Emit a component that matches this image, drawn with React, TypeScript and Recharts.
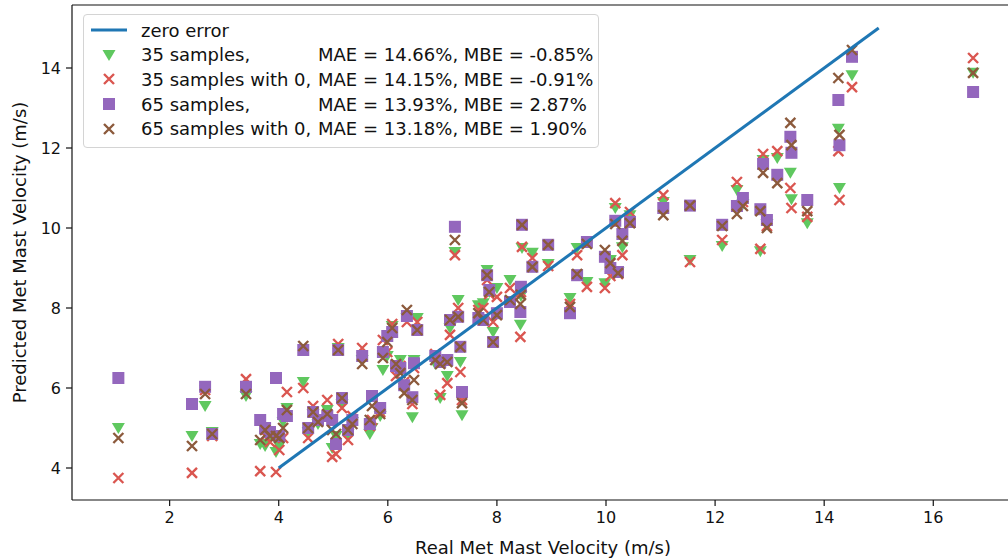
import React from "react"
import { ScatterChart, Scatter, XAxis, YAxis, Legend, ReferenceLine } from "recharts"

// real wind speed at the met mast (x of every column of markers)
const realVelocity = [
  1.06, 2.41, 2.65, 2.78, 3.4, 3.66, 3.75, 3.84, 3.95, 4.01,
  4.08, 4.15, 4.45, 4.54, 4.63, 4.72, 4.89, 4.98, 5.05, 5.09,
  5.16, 5.27, 5.35, 5.53, 5.67, 5.71, 5.86, 5.91, 5.99, 6.08,
  6.15, 6.23, 6.3, 6.35, 6.45, 6.48, 6.54, 6.87, 6.96, 7.09,
  7.14, 7.23, 7.29, 7.33, 7.36, 7.66, 7.75, 7.82, 7.86, 7.93,
  8.0, 8.24, 8.43, 8.44, 8.46, 8.65, 8.94, 9.34, 9.47, 9.65,
  9.98, 10.08, 10.17, 10.22, 10.3, 10.44, 11.05, 11.54, 12.13, 12.4,
  12.51, 12.83, 12.88, 12.95, 13.14, 13.38, 13.4, 13.69, 14.26, 14.28,
  14.51, 16.73,
]

const pred35 = [
  5.0, 4.8, 5.55, 4.9, 5.8, 4.6, 4.55, 4.75, 4.4, 4.55,
  5.15, 5.5, 6.15, 4.9, 5.35, 5.1, 5.45, 4.5, 4.8, 7.0,
  5.6, 4.85, 5.15, 6.7, 4.85, 5.0, 5.3, 6.45, 6.8, 7.55,
  6.5, 6.7, 6.0, 7.75, 5.27, 6.7, 7.75, 6.6, 5.75, 6.3,
  7.5, 9.4, 8.2, 6.65, 5.32, 8.07, 8.12, 8.95, 8.4, 7.4,
  8.5, 8.7, 7.58, 8.3, 9.5, 9.38, 9.1, 8.25, 9.5, 8.65,
  8.62, 9.2, 10.5, 8.9, 9.52, 10.32, 10.65, 9.2, 9.55, 10.95,
  10.6, 9.42, 11.7, 10.1, 11.75, 11.38, 10.72, 10.12, 12.48, 11.0,
  13.82, 13.88,
]

const pred35Zero = [
  3.75, 3.88, 5.95, 4.8, 6.22, 3.92, 4.8, 4.65, 3.9, 4.45,
  4.75, 5.9, 6.0, 4.75, 5.55, 5.2, 5.7, 4.28, 4.35, 7.1,
  5.5, 4.7, 5.3, 7.0, 5.05, 5.2, 5.4, 7.2, 6.9, 7.6,
  6.3, 6.55, 6.15, 7.65, 5.6, 6.5, 7.65, 6.85, 5.83, 6.12,
  7.33, 9.32, 8.0, 6.4, 5.7, 7.95, 8.0, 8.7, 8.35, 7.65,
  8.28, 8.5, 7.28, 8.4, 9.53, 9.25, 9.05, 8.1, 9.32, 8.53,
  8.5, 8.8, 10.62, 8.85, 9.32, 10.4, 10.82, 9.15, 9.7, 11.15,
  10.65, 9.48, 11.85, 10.05, 11.92, 11.0, 10.5, 10.28, 11.92, 10.7,
  13.52, 14.25,
]

const pred65 = [
  6.25, 5.6, 6.03, 4.85, 6.03, 5.2, 5.0, 4.9, 6.25, 4.8,
  5.35, 5.3, 6.95, 5.0, 5.4, 5.2, 5.3, 5.2, 4.6, 6.95,
  5.75, 4.95, 5.2, 6.8, 5.1, 5.8, 5.5, 6.9, 7.3, 7.4,
  6.55, 6.5, 6.07, 7.8, 5.77, 6.62, 7.45, 6.8, 6.65, 6.7,
  7.7, 10.03, 7.78, 7.03, 5.9, 7.75, 7.7, 8.82, 8.45, 7.15,
  7.87, 8.15, 7.9, 8.53, 10.08, 9.03, 9.58, 7.87, 8.82, 9.65,
  9.28, 9.0, 10.18, 8.9, 9.85, 10.15, 10.5, 10.56, 10.08, 10.55,
  10.75, 10.47, 11.6, 10.2, 11.33, 12.28, 11.88, 10.7, 13.2, 12.07,
  14.28, 13.4,
]

const pred65Zero = [
  4.75, 4.55, 5.85, 4.85, 5.85, 4.7, 4.95, 4.8, 4.8, 4.75,
  5.0, 5.45, 7.05, 5.0, 5.4, 5.15, 5.35, 4.95, 4.85, 6.95,
  5.75, 4.95, 5.1, 6.6, 5.2, 5.55, 5.35, 6.75, 7.15, 7.5,
  6.6, 6.37, 5.87, 7.95, 5.7, 6.2, 7.45, 6.7, 6.6, 6.65,
  7.7, 9.7, 7.78, 7.03, 5.62, 7.87, 7.7, 8.82, 8.4, 7.15,
  7.82, 8.2, 8.1, 8.33, 10.08, 9.03, 9.58, 8.03, 8.85, 9.6,
  9.45, 9.12, 10.1, 8.87, 9.68, 10.12, 10.32, 10.56, 10.05, 10.35,
  10.55, 10.42, 11.38, 10.0, 11.12, 12.63, 12.07, 10.42, 13.75, 12.33,
  14.45, 13.88,
]

const zeroErrorX = [4, 15]
const zeroErrorY = [4, 15]

const xTicks = [2, 4, 6, 8, 10, 12, 14, 16]
const yTicks = [4, 6, 8, 10, 12, 14]
const xDomain = [0.21, 17.48]
const yDomain = [3.2, 15.575]

const seriesNames = ["35 samples,", "35 samples with 0,", "65 samples,", "65 samples with 0,"]
const seriesStats = [
  "MAE = 14.66%, MBE = -0.85%",
  "MAE = 14.15%, MBE = -0.91%",
  "MAE = 13.93%, MBE = 2.87%",
  "MAE = 13.18%, MBE = 1.90%",
]

const GREEN = "#5fc85f"
const RED = "#da5650"
const PURPLE = "#9467bd"
const BROWN = "#8c5a3c"
const BLUE = "#1f77b4"
const FONT = "'DejaVu Sans', sans-serif"

const toPoints = (ys: number[]) => realVelocity.map((x, i) => ({ x, y: ys[i] }))
const zeroLine = zeroErrorX.map((x, i) => ({ x, y: zeroErrorY[i] }))

// marker shapes, drawn at the scaled point
const triangle = (color: string) => (p: any) => (
  <path d={`M${p.cx - 6.5},${p.cy - 5} L${p.cx + 6.5},${p.cy - 5} L${p.cx},${p.cy + 6} Z`} fill={color} />
)
const square = (color: string) => (p: any) => (
  <rect x={p.cx - 6} y={p.cy - 6} width={12} height={12} fill={color} />
)
const cross = (color: string) => (p: any) => (
  <path
    d={`M${p.cx - 5},${p.cy - 5}L${p.cx + 5},${p.cy + 5}M${p.cx - 5},${p.cy + 5}L${p.cx + 5},${p.cy - 5}`}
    stroke={color}
    strokeWidth={2.4}
  />
)
const noMarker = () => <g />

const markerIcon = (kind: string, color: string) => {
  if (kind === "line") return <line x1={2} y1={12} x2={38} y2={12} stroke={color} strokeWidth={3} />
  if (kind === "tri") return <path d="M13.5,7 L26.5,7 L20,18 Z" fill={color} />
  if (kind === "sq") return <rect x={14} y={6} width={12} height={12} fill={color} />
  return <path d="M15,7L25,17M15,17L25,7" stroke={color} strokeWidth={2.4} />
}

const legendRows = [
  { kind: "line", color: BLUE },
  { kind: "tri", color: GREEN },
  { kind: "x", color: RED },
  { kind: "sq", color: PURPLE },
  { kind: "x", color: BROWN },
]

const renderLegend = () => (
  <div
    style={{
      width: 516,
      height: 134,
      border: "1px solid #d4d4d4",
      borderRadius: 4,
      background: "rgba(255,255,255,0.85)",
      fontFamily: FONT,
      fontSize: 18,
      color: "#111",
      paddingTop: 3,
      boxSizing: "border-box",
    }}
  >
    {legendRows.map((row, i) => (
      <div key={i} style={{ display: "flex", alignItems: "center", height: 24.6, whiteSpace: "pre" }}>
        <svg width={40} height={24} style={{ marginLeft: 5, marginRight: 12 }}>
          {markerIcon(row.kind, row.color)}
        </svg>
        {i === 0 ? (
          <span>zero error</span>
        ) : (
          <>
            <span style={{ display: "inline-block", width: 177 }}>{seriesNames[i - 1]}</span>
            <span>{seriesStats[i - 1]}</span>
          </>
        )}
      </div>
    ))}
  </div>
)

const tickStyle = { fontFamily: FONT, fontSize: 16, fill: "#111" }
const axisLine = { stroke: "#111", strokeWidth: 1.2 }

export default function App() {
  return (
    <div style={{ position: "absolute", left: 0, top: 0, width: 1008, height: 559, overflow: "hidden", background: "#fff" }}>
      <ScatterChart width={1020} height={559} margin={{ top: 5, right: 6, bottom: 0, left: 0 }}>
        <XAxis
          dataKey="x"
          type="number"
          domain={xDomain}
          ticks={xTicks}
          allowDataOverflow
          height={59}
          tickSize={6}
          tickMargin={6}
          tick={tickStyle}
          axisLine={axisLine}
          tickLine={axisLine}
          label={{
            value: "Real Met Mast Velocity (m/s)",
            position: "insideBottom",
            offset: 5,
            style: { fontFamily: FONT, fontSize: 18, fill: "#111" },
          }}
        />
        <YAxis
          dataKey="y"
          type="number"
          domain={yDomain}
          ticks={yTicks}
          allowDataOverflow
          width={72}
          tickSize={6}
          tickMargin={5}
          tick={tickStyle}
          axisLine={axisLine}
          tickLine={axisLine}
          label={{
            value: "Predicted Met Mast Velocity (m/s)",
            angle: -90,
            position: "insideLeft",
            offset: 20,
            style: { fontFamily: FONT, fontSize: 18, fill: "#111", textAnchor: "middle" },
          }}
        />
        {/* top and right frame lines */}
        <ReferenceLine y={yDomain[1]} stroke="#111" strokeWidth={1.2} />
        <ReferenceLine x={xDomain[1]} stroke="#111" strokeWidth={1.2} />
        <Legend
          content={renderLegend}
          layout="horizontal"
          verticalAlign="middle"
          align="center"
          wrapperStyle={{ top: 14, left: 83, width: 516 }}
        />
        <Scatter name="35 samples" data={toPoints(pred35)} shape={triangle(GREEN)} fill={GREEN} isAnimationActive={false} />
        <Scatter name="35 samples with 0" data={toPoints(pred35Zero)} shape={cross(RED)} fill={RED} isAnimationActive={false} />
        <Scatter name="65 samples" data={toPoints(pred65)} shape={square(PURPLE)} fill={PURPLE} isAnimationActive={false} />
        <Scatter name="65 samples with 0" data={toPoints(pred65Zero)} shape={cross(BROWN)} fill={BROWN} isAnimationActive={false} />
        <Scatter
          name="zero error"
          data={zeroLine}
          line={{ stroke: BLUE, strokeWidth: 3 }}
          shape={noMarker}
          fill={BLUE}
          isAnimationActive={false}
        />
      </ScatterChart>
    </div>
  )
}
